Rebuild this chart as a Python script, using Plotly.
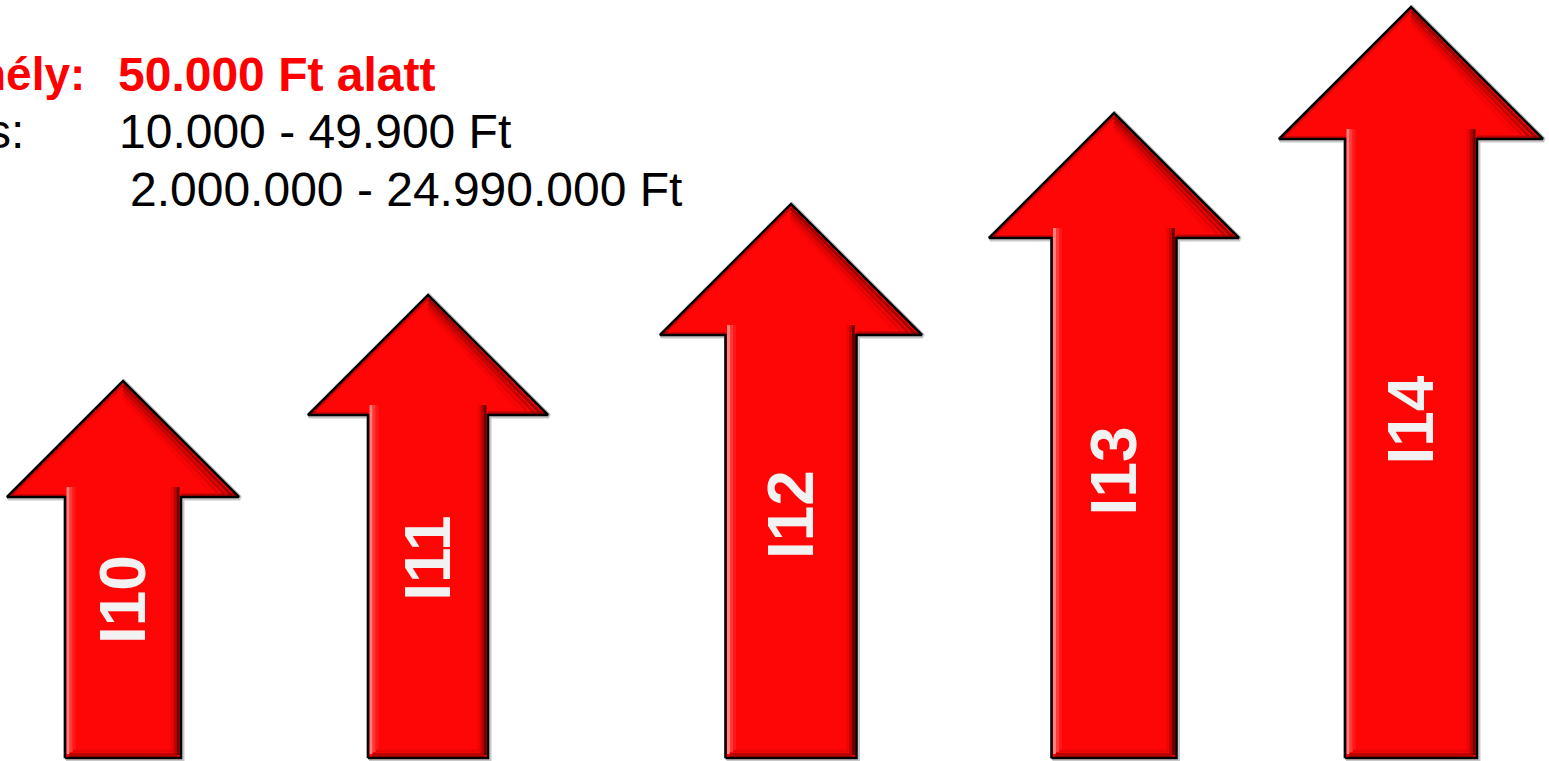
import plotly.graph_objects as go

# ---- data ----
CATEGORIES = ["I10", "I11", "I12", "I13", "I14"]
X_VALUES = [123, 428, 791, 1114, 1411]          # horizontal placement of each arrow
LEVELS = [377, 463, 554, 645, 751]              # arrow height (tip level)

HEADLINE_LABEL = "hély:"
HEADLINE_VALUE = "50.000 Ft alatt"
LINE2_LABEL = "s:"
LINE2_VALUE = "10.000 - 49.900 Ft"
LINE3_VALUE = "2.000.000 - 24.990.000 Ft"

# ---- styles ----
HEAD_HALF = [116, 120, 131, 125, 132]
FILL = "#ff0606"
FONT = "Arial, Liberation Sans, sans-serif"

fig = go.Figure()


def add_line(xs, ys, color, width):
    fig.add_trace(go.Scatter(x=xs, y=ys, mode="lines",
                             line=dict(color=color, width=width),
                             hoverinfo="skip", showlegend=False))


for cat, cx, h, hw in zip(CATEGORIES, X_VALUES, LEVELS, HEAD_HALF):
    sw = hw / 2.0
    hh = hw
    base = h - hh
    L, R = cx - sw, cx + sw
    px = [L, L, cx - hw, cx, cx + hw, R, R, L]
    py = [0, base, base, h, base, base, 0, 0]
    # soft shadow outline
    add_line([p + 1 for p in px], [q - 1 for q in py], "rgba(0,0,0,0.22)", 5)
    # body
    fig.add_trace(go.Scatter(x=px, y=py, mode="lines", fill="toself",
                             fillcolor=FILL, line=dict(color="rgba(0,0,0,0)", width=0),
                             hoverinfo="skip", showlegend=False))
    # bevel: head right edge (dark gradient)
    for off, col, w in [(3, "rgba(70,0,0,0.5)", 3), (6, "rgba(110,0,0,0.4)", 3),
                        (9, "rgba(160,0,0,0.3)", 3), (12, "rgba(210,0,0,0.2)", 3)]:
        add_line([cx, cx + hw - off * 2.4], [h - off * 1.41, base + off * 0.5], col, w)
    # bevel: head left edge (slight)
    add_line([cx - hw + 5, cx], [base + 2, h - 4], "rgba(140,0,0,0.4)", 2)
    # bevel: shoulders
    add_line([cx - hw + 4, L], [base + 2, base + 2], "rgba(150,0,0,0.4)", 2)
    add_line([R, cx + hw - 4], [base + 2, base + 2], "rgba(120,0,0,0.5)", 3)
    # bevel: shaft left highlight
    add_line([L + 3, L + 3], [4, base + 10], "rgba(255,150,150,0.85)", 3)
    add_line([L + 6, L + 6], [6, base + 10], "rgba(255,90,90,0.6)", 3)
    add_line([L + 9, L + 9], [8, base + 10], "rgba(255,60,60,0.35)", 3)
    # bevel: shaft right shadow
    add_line([R - 3, R - 3], [3, base + 10], "rgba(80,0,0,0.85)", 3)
    add_line([R - 6, R - 6], [5, base + 10], "rgba(140,0,0,0.55)", 3)
    add_line([R - 9, R - 9], [7, base + 10], "rgba(200,0,0,0.3)", 3)
    # bevel: bottom
    add_line([L + 4, R - 4], [3, 3], "rgba(130,0,0,0.55)", 4)
    add_line([L + 8, R - 8], [7, 7], "rgba(190,0,0,0.3)", 3)
    # outline
    add_line(px, py, "#000000", 2.5)
    # label
    fig.add_annotation(x=cx, y=0.48 * h - 23, xref="x", yref="y",
                       text=f"<b>{cat}</b>", textangle=-90, showarrow=False,
                       font=dict(family=FONT, size=64, color="#f2f2f2"),
                       xanchor="center", yanchor="middle")

# header text
fig.add_annotation(x=87, y=684, xref="x", yref="y", text=f"<b>{HEADLINE_LABEL}</b>",
                   showarrow=False, xanchor="right", yanchor="middle",
                   font=dict(family=FONT, size=46, color="#ff0000"))
fig.add_annotation(x=116, y=684, xref="x", yref="y", text=f"<b>{HEADLINE_VALUE}</b>",
                   showarrow=False, xanchor="left", yanchor="middle",
                   font=dict(family=FONT, size=48, color="#ff0000"))
fig.add_annotation(x=26, y=627, xref="x", yref="y", text=LINE2_LABEL,
                   showarrow=False, xanchor="right", yanchor="middle",
                   font=dict(family=FONT, size=48, color="#000000"))
fig.add_annotation(x=117, y=627, xref="x", yref="y", text=LINE2_VALUE,
                   showarrow=False, xanchor="left", yanchor="middle",
                   font=dict(family=FONT, size=48, color="#000000"))
fig.add_annotation(x=128, y=569, xref="x", yref="y", text=LINE3_VALUE,
                   showarrow=False, xanchor="left", yanchor="middle",
                   font=dict(family=FONT, size=48, color="#000000"))

fig.update_layout(
    width=1549, height=761,
    margin=dict(l=0, r=0, t=0, b=0),
    paper_bgcolor="white", plot_bgcolor="white",
    xaxis=dict(range=[0, 1549], visible=False, fixedrange=True),
    yaxis=dict(range=[-3, 758], visible=False, fixedrange=True),
    hovermode=False,
    showlegend=False,
)

fig.write_html("out.html", config={"displayModeBar": False},
               post_script="document.body.style.margin='0px';document.body.style.overflow='hidden';")
